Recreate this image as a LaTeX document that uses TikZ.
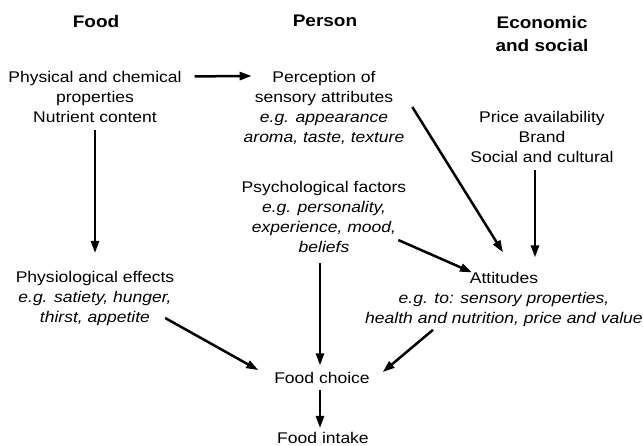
\documentclass[tikz,border=0pt]{standalone}
\usepackage{fontspec}
\setmainfont{Liberation Sans}[FakeStretch=1.13]
\usetikzlibrary{arrows.meta}
\begin{document}
\begin{tikzpicture}[x=1pt,y=-1pt,
  txt/.style={inner sep=0pt, outer sep=0pt, align=center, anchor=north,
    font=\fontsize{15.5pt}{20pt}\selectfont},
  head/.style={inner sep=0pt, outer sep=0pt, align=center, anchor=north,
    font=\fontsize{16.8pt}{23pt}\selectfont\bfseries},
  arr/.style={line width=2.5pt, -{Triangle[length=12pt,width=8pt]}}]
\useasboundingbox (0,0) rectangle (643,446);
% headings
\node[head] (hfood) at (96,15) {Food};
\node[head] (hperson) at (325,15) {Person};
\node[head] (hecon) at (542,16) {Economic\\and social};
% text blocks
\node[txt] (phys) at (95,71.4) {Physical and chemical\\properties\\Nutrient content};
\node[txt] (perc) at (324,71) {Perception of\\sensory attributes\\\textit{e.g. appearance}\\\textit{aroma, taste, texture}};
\node[txt] (price) at (542,111.5) {Price availability\\Brand\\Social and cultural};
\node[txt] (psych) at (324,181.5) {Psychological factors\\\textit{e.g. personality,}\\\textit{experience, mood,}\\\textit{beliefs}};
\node[txt] (physio) at (95,271.5) {Physiological effects\\\textit{e.g. satiety, hunger,}\\\textit{thirst, appetite}};
\node[txt] (att) at (504,272.4) {Attitudes\\\textit{e.g. to: sensory properties,}\\\textit{health and nutrition, price and value}};
\node[txt] (choice) at (322,372.4) {Food choice};
\node[txt] (intake) at (323,432.5) {Food intake};
% connectors
\draw[arr] ([shift={(13,5)}]phys.north east) -- ([shift={(8,5)}]perc.north west);
\draw[arr] ([shift={(8,36)}]perc.north east) -- ([shift={(-1,-20)}]att.north);
\draw[arr] ([shift={(-7,7)}]price.south) -- ([shift={(31,-15)}]att.north);
\draw[arr] ([shift={(-8,58.5)}]psych.north east) -- ([shift={(-32,0)}]att.north);
\draw[arr] ([shift={(0,7.5)}]phys.south) -- ([shift={(0,-18.5)}]physio.north);
\draw[arr] ([shift={(-9,46.5)}]physio.north east) -- ([shift={(-16,-8)}]choice.west);
\draw[arr] ([shift={(-4,10)}]psych.south) -- ([shift={(-2,-7)}]choice.north);
\draw[arr] ([shift={(-71,3)}]att.south) -- ([shift={(13,-6)}]choice.east);
\draw[arr] ([shift={(-2,6.4)}]choice.south) -- ([shift={(-3,-4.5)}]intake.north);
\end{tikzpicture}
\end{document}
